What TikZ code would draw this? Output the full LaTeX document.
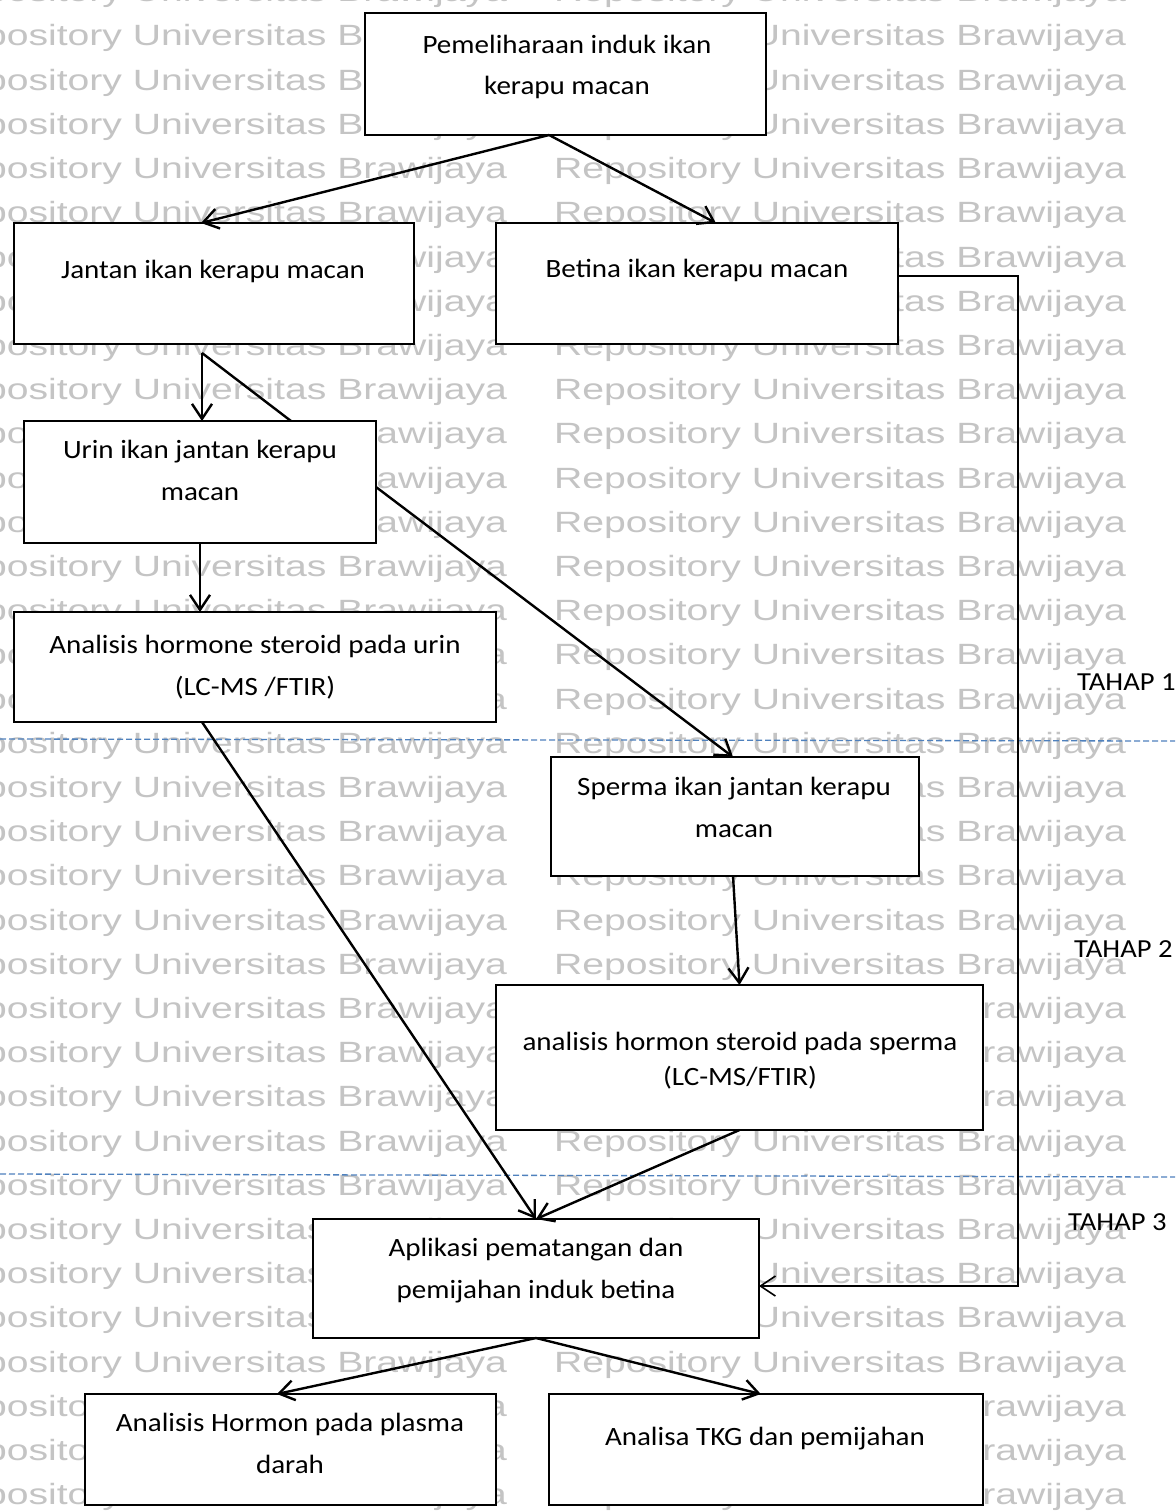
\documentclass[tikz,border=0pt]{standalone}
\usepackage{fontspec}
\usepackage{graphicx}
\setmainfont{Carlito}[FakeStretch=1.10]
\newfontfamily\wmfont{Liberation Sans}
\usetikzlibrary{arrows.meta,calc}
\definecolor{sepblue}{HTML}{4F81BD}
\definecolor{wmgray}{gray}{0.77}
\newcommand\mainsz{\fontsize{26.4}{41.5}\selectfont}
\newcommand\stagesz{\fontsize{26}{30}\selectfont}
\newsavebox\wmbox
\begin{document}
\sbox\wmbox{\color{wmgray}\resizebox{572pt}{\height}{\wmfont\fontsize{29.3}{30}\selectfont Repository Universitas Brawijaya}}%
\begin{tikzpicture}[x=1pt,y=-1pt,
  box/.style={draw, line width=2.8pt, fill=white, inner sep=0pt, outer sep=0pt},
  txt/.style={align=center, inner sep=0pt, outer sep=0pt, font=\mainsz, anchor=base},
  conn/.style={line width=2.4pt, -{Straight Barb[length=15pt,width=20pt]}},
  plainline/.style={line width=2.4pt},
  stage/.style={anchor=base west, inner sep=0pt, font=\stagesz},
  sepline/.style={line width=1.3pt, draw=sepblue, dash pattern=on 6pt off 3pt},
  wm/.style={anchor=base west, inner sep=0pt, outer sep=0pt}]
\useasboundingbox (0,0) rectangle (1175,1512);
\fill[white] (0,0) rectangle (1175,1512);
% watermark
\begin{scope}
\clip (0,0) rectangle (1175,1512);
\foreach \k in {0,...,34}{
  \foreach \c/\xx in {0/-65,1/554,2/1173}{
    \node[wm] (wm-\k-\c) at (\xx, 1.8+44.2*\k) {\usebox\wmbox};
  }
}
\end{scope}
% separators
\coordinate (d1l) at (0,739);
\coordinate (d1r) at (1175,741);
\coordinate (d2l) at (0,1174);
\coordinate (d2r) at (1175,1177);
\draw[sepline] (d1l) -- (d1r);
\draw[sepline] (d2l) -- (d2r);
% boxes
\node[box, minimum width=401pt, minimum height=122pt] (b1) at (565.5,74) {};
\node[box, minimum width=400pt, minimum height=121pt] (b2) at (214,283.5) {};
\node[box, minimum width=402pt, minimum height=121pt] (b3) at (697,283.5) {};
\node[box, minimum width=352pt, minimum height=122pt] (b4) at (200,482) {};
\node[box, minimum width=482pt, minimum height=110pt] (b5) at (255,667) {};
\node[box, minimum width=368pt, minimum height=119pt] (b6) at (735,816.5) {};
\node[box, minimum width=487pt, minimum height=145pt] (b7) at (739.5,1057.5) {};
\node[box, minimum width=446pt, minimum height=119pt] (b8) at (536,1278.5) {};
\node[box, minimum width=411pt, minimum height=111pt] (b9) at (290.5,1449.5) {};
\node[box, minimum width=434pt, minimum height=111pt] (b10) at (766,1449.5) {};
% texts (anchor = baseline of the last line)
\node[txt] (t1) at (567,95) {Pemeliharaan induk ikan\\kerapu macan};
\node[txt] (t2) at (213,278) {Jantan ikan kerapu macan};
\node[txt] (t3) at (697,277) {Betina ikan kerapu macan};
\node[txt] (t4) at (200,500) {Urin ikan jantan kerapu\\macan};
\node[txt] (t5) at (255,695) {Analisis hormone steroid pada urin\\(LC-MS /FTIR)};
\node[txt] (t6) at (734,837) {Sperma ikan jantan kerapu\\macan};
\node[txt] (t7) at (740,1085) {analisis hormon steroid pada sperma\\[-6.5pt](LC-MS/FTIR)};
\node[txt] (t8) at (536,1298) {Aplikasi pematangan dan\\pemijahan induk betina};
\node[txt] (t9) at (290,1473) {Analisis Hormon pada plasma\\darah};
\node[txt] (t10) at (765,1445) {Analisa TKG dan pemijahan};
% stage labels
\node[stage] (s1) at (1077,690) {TAHAP 1};
\node[stage] (s2) at (1074,957) {TAHAP 2};
\node[stage] (s3) at (1068,1230) {TAHAP 3};
% connectors
\coordinate (top1) at ($(b1.south west)!0.459!(b1.south east)$);
\draw[conn] (top1) -- ($(b2.north west)!0.4675!(b2.north east)$);
\draw[conn] (top1) -- ($(b3.north west)!0.547!(b3.north east)$);
\draw[conn, line width=1.6pt] ($(b3.east)+(0,-7.5)$) -- ++(120,0) coordinate (r1) |- ($(b8.east)+(0,7.5)$);
\coordinate (jt) at ($(b2.south)+(-12,9)$);
\draw[conn] (jt) -- (jt |- b4.north);
\draw[plainline] (jt) -- ($(b4.north west)!0.7585!(b4.north east)$);
\draw[conn] (b4.south) -- (b4.south |- b5.north);
\draw[conn] ($(b4.east)+(0,5)$) -- ($(b6.north west)!0.4946!(b6.north east)$);
\draw[conn] ($(b5.south west)!0.39!(b5.south east)$) -- (b8.north);
\draw[conn] ($(b6.south west)!0.4946!(b6.south east)$) -- (b7.north);
\draw[conn] (b7.south) -- (b8.north);
\draw[conn] (b8.south) -- ($(b9.north west)!0.467!(b9.north east)$);
\draw[conn] (b8.south) -- ($(b10.north west)!0.488!(b10.north east)$);
\end{tikzpicture}
\end{document}
